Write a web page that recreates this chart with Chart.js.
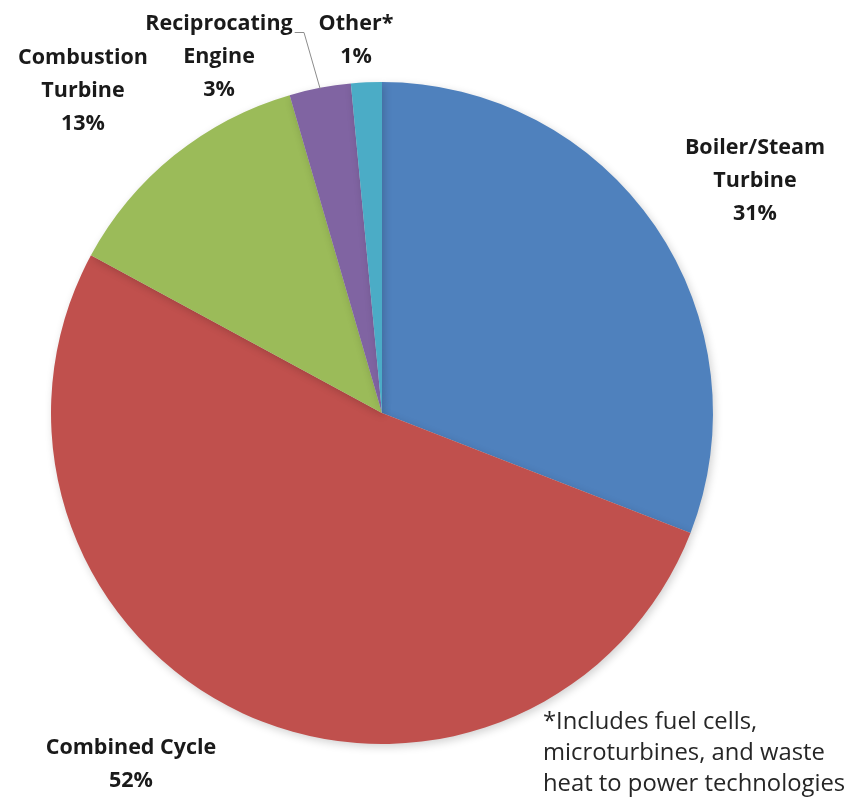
<!DOCTYPE html>
<html>
<head>
<meta charset="utf-8">
<script src="https://cdn.jsdelivr.net/npm/chart.js@4"></script>
<style>
  html, body { margin: 0; padding: 0; background: #fff; }
  #wrap { width: 852px; height: 800px; }
</style>
</head>
<body>
<div id="wrap"><canvas id="pieChart" width="852" height="800"></canvas></div>
<script>
/* dados do gráfico */
const categories = ['Boiler/Steam Turbine', 'Combined Cycle', 'Combustion Turbine', 'Reciprocating Engine', 'Other*'];
const shares = [30.9, 52.0, 12.6, 3.0, 1.5];
const pctLabels = ['31%', '52%', '13%', '3%', '1%'];
const colors = ['#4F81BD', '#C0504D', '#9BBB59', '#8064A2', '#4BACC6'];
const footnote = ['*Includes fuel cells,', 'microturbines, and waste', 'heat to power technologies'];

/* posição dos rótulos (linhas de texto) */
const labelLayout = [
    { x: 755, y: 148, lines: ['Boiler/Steam', 'Turbine', '31%'] },
    { x: 131, y: 748, lines: ['Combined Cycle', '52%'] },
    { x: 83,  y: 58,  lines: ['Combustion', 'Turbine', '13%'] },
    { x: 219, y: 24,  lines: ['Reciprocating', 'Engine', '3%'] },
    { x: 356, y: 24,  lines: ['Other*', '1%'] }
];

const shadowPlugin = {
    id: 'shadow',
    beforeDatasetDraw(chart) {
        const ctx = chart.ctx;
        ctx.save();
        ctx.shadowColor = 'rgba(0,0,0,0.18)';
        ctx.shadowBlur = 8;
        ctx.shadowOffsetX = 2;
        ctx.shadowOffsetY = 3;
    },
    afterDatasetDraw(chart) {
        chart.ctx.restore();
    }
};

const labelsPlugin = {
    id: 'labels',
    afterDraw(chart) {
        const ctx = chart.ctx;
        ctx.save();
        ctx.fillStyle = '#1a1a1a';
        ctx.textAlign = 'center';
        ctx.textBaseline = 'middle';
        ctx.font = 'bold 21.5px "Open Sans"';
        labelLayout.forEach(l => {
            l.lines.forEach((t, i) => ctx.fillText(t, l.x, l.y + i * 33));
        });

        // linha guia do Reciprocating Engine
        const rec = labelLayout[3];
        const sx = rec.x + ctx.measureText(rec.lines[0]).width / 2 + 2;
        const arc = chart.getDatasetMeta(0).data[3];
        const mid = (arc.startAngle + arc.endAngle) / 2;
        const ex = arc.x + Math.cos(mid) * (arc.outerRadius - 1);
        const ey = arc.y + Math.sin(mid) * (arc.outerRadius - 1);
        ctx.strokeStyle = '#8c8c8c';
        ctx.lineWidth = 1;
        ctx.beginPath();
        ctx.moveTo(sx, 32.5);
        ctx.lineTo(Math.max(sx + 8, 304), 32.5);
        ctx.lineTo(ex, ey);
        ctx.stroke();

        // nota de rodapé
        ctx.textAlign = 'left';
        ctx.fillStyle = '#262626';
        ctx.font = '23.8px "Open Sans"';
        footnote.forEach((t, i) => ctx.fillText(t, 543, 722 + i * 31));
        ctx.restore();
    }
};

new Chart(document.getElementById('pieChart').getContext('2d'), {
    type: 'pie',
    data: {
        labels: categories,
        datasets: [{ data: shares, backgroundColor: colors, borderWidth: 0 }]
    },
    options: {
        responsive: false,
        animation: false,
        layout: { padding: { left: 51, right: 139, top: 82, bottom: 56 } },
        plugins: { legend: { display: false }, tooltip: { enabled: false } }
    },
    plugins: [shadowPlugin, labelsPlugin]
});
</script>
</body>
</html>
